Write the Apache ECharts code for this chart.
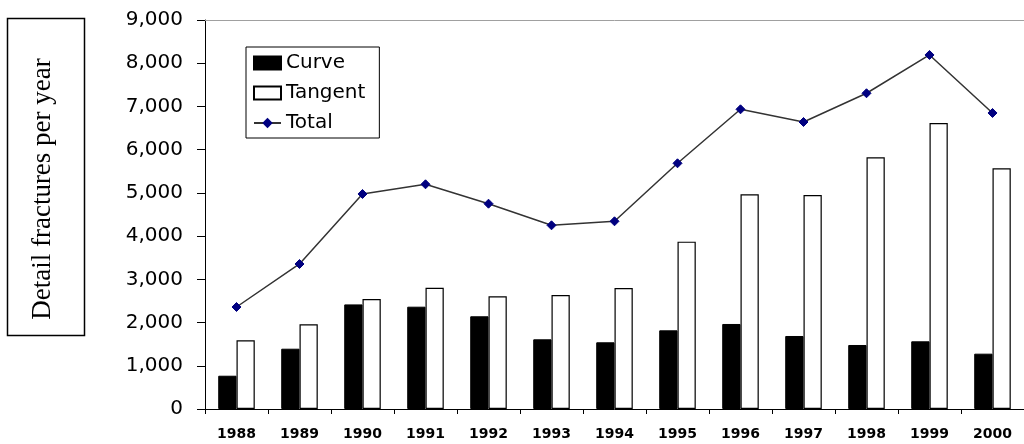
<!DOCTYPE html>
<html>
<head>
<meta charset="utf-8">
<script src="https://cdn.jsdelivr.net/npm/echarts@6/dist/echarts.min.js"></script>
<style>
  html, body { margin: 0; padding: 0; background: #ffffff; }
  #chart { width: 1024px; height: 444px; }
</style>
</head>
<body>
<div id="chart"></div>
<script>
const years = ['1988','1989','1990','1991','1992','1993','1994','1995','1996','1997','1998','1999','2000'];
const curve = [770, 1395, 2420, 2367, 2145, 1612, 1543, 1820, 1967, 1689, 1481, 1566, 1280];
const tangent = [1590, 1960, 2545, 2807, 2607, 2638, 2800, 3872, 4967, 4951, 5823, 6617, 5569];
const total = [2360, 3355, 4975, 5199, 4750, 4250, 4343, 5685, 6934, 6640, 7305, 8191, 6849];
const yTicks = { min: 0, max: 9000, interval: 1000 };
const yTitle = 'Detail fractures per year';

const chart = echarts.init(document.getElementById('chart'), null, { renderer: 'canvas' });

const option = {
  backgroundColor: '#ffffff',
  animation: false,
  grid: { left: 205, top: 20, width: 828, height: 389, containLabel: false },
  legend: {
    left: 246,
    top: 47,
    orient: 'vertical',
    padding: [6, 14, 5, 7],
    itemWidth: 27,
    itemHeight: 13,
    itemGap: 10,
    borderColor: '#000000',
    borderWidth: 1,
    backgroundColor: '#ffffff',
    textStyle: { fontFamily: 'DejaVu Sans', fontSize: 20, color: '#000000', lineHeight: 20 },
    data: [
      { name: 'Curve', icon: 'rect' },
      { name: 'Tangent', icon: 'rect' },
      { name: 'Total' }
    ]
  },
  xAxis: [
    {
      type: 'category',
      data: years,
      position: 'bottom',
      axisLine: { lineStyle: { color: '#000000', width: 1 } },
      axisTick: { show: true, alignWithLabel: false, length: 5, lineStyle: { color: '#000000' } },
      axisLabel: { fontFamily: 'DejaVu Sans', fontWeight: 'bold', fontSize: 14, color: '#000000', margin: 18, interval: 0 },
      splitLine: { show: false }
    },
    {
      type: 'category',
      data: years,
      position: 'top',
      axisLine: { show: true, lineStyle: { color: '#a0a0a0', width: 1 } },
      axisTick: { show: false },
      axisLabel: { show: false },
      splitLine: { show: false }
    }
  ],
  yAxis: {
    type: 'value',
    min: yTicks.min,
    max: yTicks.max,
    interval: yTicks.interval,
    axisLine: { show: true, lineStyle: { color: '#000000', width: 1 } },
    axisTick: { show: true, length: 8, lineStyle: { color: '#000000' } },
    axisLabel: {
      fontFamily: 'DejaVu Sans', fontSize: 20, color: '#000000', margin: 22,
      formatter: v => v.toLocaleString('en-US')
    },
    splitLine: { show: false }
  },
  graphic: [
    {
      type: 'rect',
      shape: { x: 7.5, y: 18.5, width: 77, height: 317 },
      style: { fill: '#ffffff', stroke: '#000000', lineWidth: 1.5 }
    },
    {
      type: 'text',
      x: 43,
      y: 189,
      rotation: Math.PI / 2,
      style: {
        text: yTitle,
        fontFamily: 'Liberation Serif',
        fontSize: 27,
        fill: '#000000',
        textAlign: 'center',
        textVerticalAlign: 'middle'
      }
    }
  ],
  series: [
    {
      name: 'Curve',
      type: 'bar',
      data: curve,
      barWidth: '29%',
      barGap: '0%',
      itemStyle: { color: '#000000', borderColor: '#000000', borderWidth: 1 }
    },
    {
      name: 'Tangent',
      type: 'bar',
      data: tangent,
      barWidth: '29%',
      barGap: '0%',
      itemStyle: { color: '#ffffff', borderColor: '#000000', borderWidth: 1.2 }
    },
    {
      name: 'Total',
      type: 'line',
      data: total,
      symbol: 'diamond',
      symbolSize: 9,
      itemStyle: { color: '#000080', borderColor: '#000080' },
      lineStyle: { color: '#333333', width: 1.5 },
      z: 5
    }
  ]
};

chart.setOption(option);
</script>
</body>
</html>
